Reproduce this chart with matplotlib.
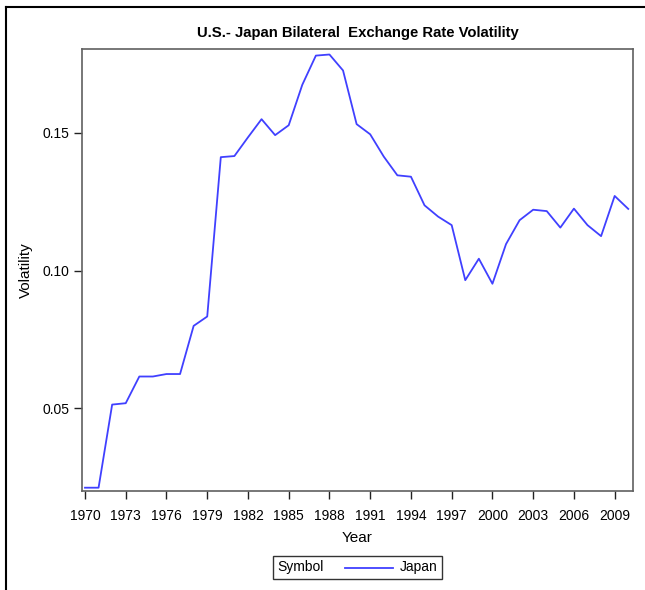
import matplotlib
matplotlib.use("Agg")
import matplotlib.pyplot as plt
from matplotlib.lines import Line2D
from matplotlib.offsetbox import HPacker, TextArea, DrawingArea, AnchoredOffsetbox

plt.rcParams['font.family'] = ['Liberation Sans', 'DejaVu Sans']

# data
years = list(range(1970, 2011))
japan = [0.0211, 0.0211, 0.0513, 0.0518, 0.0615, 0.0615, 0.0624, 0.0624, 0.0799, 0.0833,
         0.1412, 0.1416, 0.1484, 0.1550, 0.1492, 0.1528, 0.1675, 0.1781, 0.1785, 0.1727,
         0.1532, 0.1495, 0.1414, 0.1346, 0.1341, 0.1237, 0.1196, 0.1165, 0.0965, 0.1043,
         0.0952, 0.1096, 0.1183, 0.1221, 0.1216, 0.1156, 0.1225, 0.1165, 0.1125, 0.1271,
         0.1224]
xticks = list(range(1970, 2010, 3))
yticks = [0.05, 0.10, 0.15]

W, H = 645, 590
line_col = '#4040ff'
fig = plt.figure(figsize=(W / 100, H / 100), dpi=100)
ax = fig.add_axes([82 / W, 1 - 491 / H, (633 - 82) / W, (491 - 49) / H])

ax.plot(years, japan, color=line_col, lw=1.3, label='Japan')

ax.set_xlim(1969.78, 2010.35)
ax.set_ylim(0.0199, 0.1805)
ax.set_xticks(xticks)
ax.set_yticks(yticks)
ax.set_yticklabels(['%.2f' % v for v in yticks])
ax.tick_params(labelsize=10, length=6, width=1, color='#222222', pad=3)
ax.tick_params(axis='x', pad=7)
for s in ax.spines.values():
    s.set_color('#606060')
    s.set_linewidth(1.2)

ax.set_xlabel('Year', fontsize=11, labelpad=6)
ax.set_ylabel('Volatility', fontsize=11, labelpad=7)
fig.text((82 + 633) / 2 / W, 1 - 33 / H, 'U.S.- Japan Bilateral  Exchange Rate Volatility',
         ha='center', va='center', fontsize=10.7, fontweight='bold')

# legend: "Symbol" caption, then the line sample and its label, in one row
# (offsetbox sizes are in points: 1 px = 0.72 pt at 100 dpi)
sample = DrawingArea(35, 7, 0, 0)
sample.add_artist(Line2D([0, 35], [3.5, 3.5], color=line_col, lw=1.3))
entry = HPacker(children=[sample, TextArea('Japan', textprops=dict(fontsize=10))],
                pad=0, sep=4.5, align='center')
row = HPacker(children=[TextArea('Symbol', textprops=dict(fontsize=10)), entry],
              pad=0, sep=15, align='center')
leg = AnchoredOffsetbox(loc='center', child=row, pad=0.3, borderpad=0,
                        bbox_to_anchor=(357.5 / W, 1 - 567.5 / H),
                        bbox_transform=fig.transFigure, frameon=True)
leg.patch.set_edgecolor('#333333')
leg.patch.set_linewidth(1.0)
leg.patch.set_boxstyle('square', pad=0)
fig.add_artist(leg)

# outer border (top and left only)
fig.add_artist(Line2D([6 / W, 1], [1 - 7 / H, 1 - 7 / H], color='black', lw=1.5))
fig.add_artist(Line2D([6 / W, 6 / W], [0, 1 - 7 / H], color='black', lw=1.5))

fig.savefig('out.png', dpi=100)
